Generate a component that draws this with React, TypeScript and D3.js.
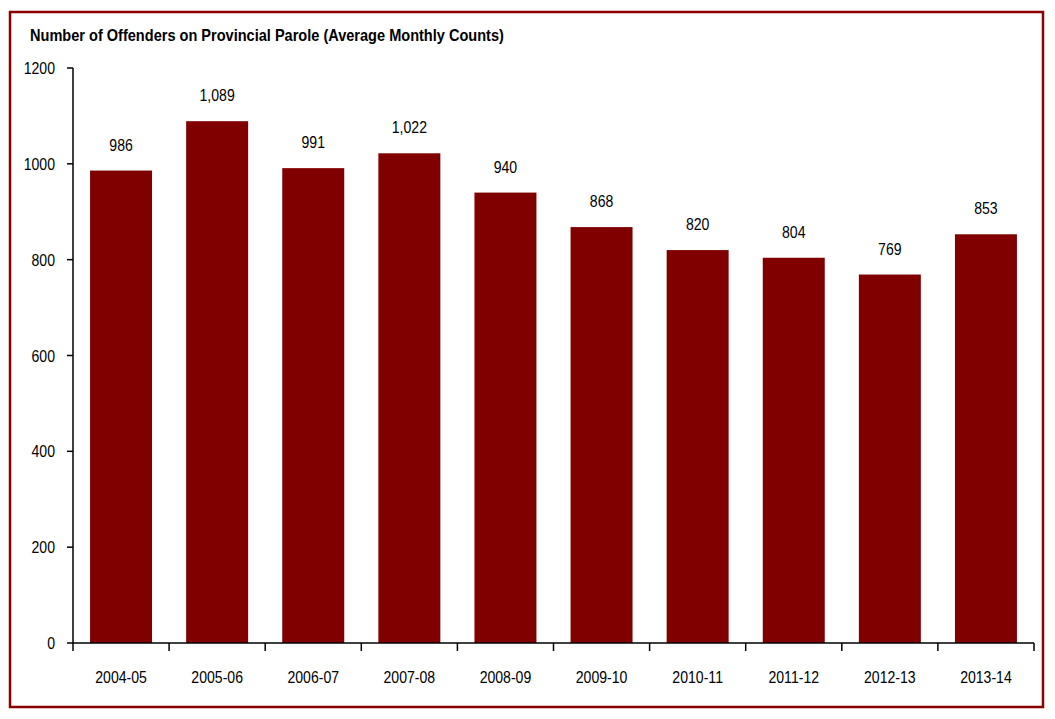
import React from "react";
import * as d3 from "d3";

const categories = ["2004-05", "2005-06", "2006-07", "2007-08", "2008-09", "2009-10", "2010-11", "2011-12", "2012-13", "2013-14"];
const values = [986, 1089, 991, 1022, 940, 868, 820, 804, 769, 853];
const yTicks = [0, 200, 400, 600, 800, 1000, 1200];
const title = "Number of Offenders on Provincial Parole (Average Monthly Counts)";

const W = 1055;
const H = 719;
const FONT = "'Liberation Sans', Arial, sans-serif";
const RED = "#800000";

function T({ x, y, anchor = "middle", size = 16, bold = false, sx = 0.88, children }: any) {
  return (
    <text
      transform={`translate(${x},${y}) scale(${sx},1)`}
      textAnchor={anchor}
      fontSize={size}
      fontWeight={bold ? "bold" : "normal"}
      fill="#000"
    >
      {children}
    </text>
  );
}

export default function App() {
  const left = 73, right = 1034, top = 68, bottom = 643;
  const x = d3.scaleBand().domain(categories).range([left, right]).paddingInner(0.355).paddingOuter(0.1775);
  const xb = d3.scaleBand().domain(categories).range([left, right]);
  const y = d3.scaleLinear().domain([0, 1200]).range([bottom, top]);
  const fmt = d3.format(",");
  return (
    <svg width={W} height={H} style={{ position: "absolute", left: 0, top: 0, background: "#fff" }} fontFamily={FONT}>
      <rect x={10} y={12} width={1033} height={695} fill="none" stroke="#8b0000" strokeWidth={2.5} />
      <T x={30} y={41} anchor="start" size={16} bold sx={0.91}>{title}</T>
      {categories.map((c, i) => (
        <g key={c}>
          <rect x={x(c)} y={y(values[i])} width={x.bandwidth()} height={bottom - y(values[i])} fill={RED} />
          <T x={(x(c) as number) + x.bandwidth() / 2} y={y(values[i]) - 20}>{fmt(values[i])}</T>
          <T x={(xb(c) as number) + xb.bandwidth() / 2} y={683}>{c}</T>
        </g>
      ))}
      <line x1={left} x2={left} y1={top} y2={bottom} stroke="#000" strokeWidth={1.5} />
      <line x1={left} x2={right} y1={bottom} y2={bottom} stroke="#000" strokeWidth={1.5} />
      {yTicks.map((t) => (
        <g key={t}>
          <line x1={left - 6} x2={left} y1={y(t)} y2={y(t)} stroke="#000" strokeWidth={1.5} />
          <T x={55} y={y(t) + 6} anchor="end">{t}</T>
        </g>
      ))}
      {[...categories.map((c) => xb(c) as number), right].map((t, i) => (
        <line key={i} x1={t} x2={t} y1={bottom} y2={bottom + 8} stroke="#000" strokeWidth={1.5} />
      ))}
    </svg>
  );
}
